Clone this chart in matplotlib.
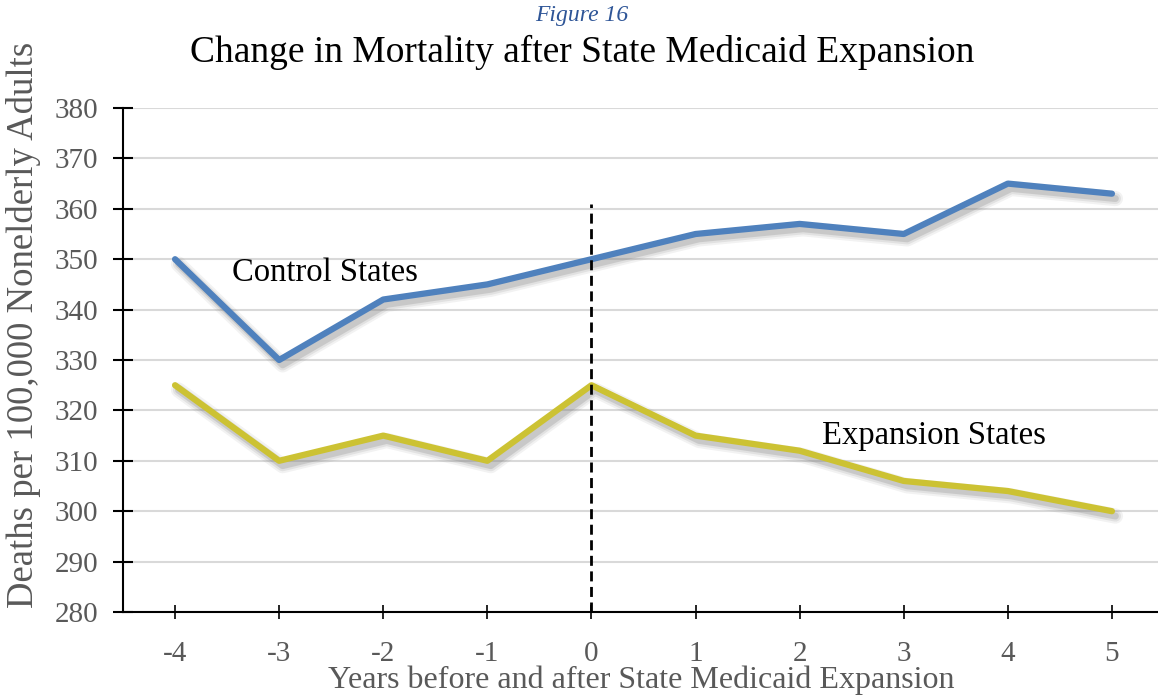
import matplotlib
matplotlib.use('Agg')
import matplotlib.pyplot as plt
import matplotlib.patheffects as pe

plt.rcParams['font.family'] = ['Liberation Serif', 'DejaVu Serif']

# 데이터
years = [-4, -3, -2, -1, 0, 1, 2, 3, 4, 5]
control = [350, 330, 342, 345, 350, 355, 357, 355, 365, 363]
expansion = [325, 310, 315, 310, 325, 315, 312, 306, 304, 300]

W, H = 1158, 697
fig = plt.figure(figsize=(W / 100, H / 100), dpi=100)
fig.set_facecolor('white')
ax = fig.add_axes([123 / W, 1 - 612 / H, (W - 123) / W, (612 - 108) / H])

# 흐릿한 그림자 흉내
shadow = [pe.SimpleLineShadow(offset=(2.5, -3.5), shadow_color='#808080', alpha=0.10, linewidth=11),
          pe.SimpleLineShadow(offset=(2.5, -3.5), shadow_color='#808080', alpha=0.15, linewidth=8),
          pe.SimpleLineShadow(offset=(2.5, -3.5), shadow_color='#808080', alpha=0.25, linewidth=5),
          pe.Normal()]

ax.plot(years, control, color='#4F81BD', lw=4.5, solid_capstyle='round', solid_joinstyle='round',
        path_effects=shadow, zorder=3)
ax.plot(years, expansion, color='#CCC233', lw=4.5, solid_capstyle='round', solid_joinstyle='round',
        path_effects=shadow, zorder=3)

# 확장 시점 점선
ax.plot([0, 0], [280, 361], color='black', lw=2, ls=(0, (3.6, 2)), zorder=4)

ax.text(-3.45, 347.3, 'Control States', fontsize=23.5, va='center', ha='left')
ax.text(2.21, 314.9, 'Expansion States', fontsize=23.5, va='center', ha='left')

ax.set_xlim(-4.5, -4.5 + (W - 123) / 104.1)
ax.set_ylim(280, 380)
ax.set_xticks(years)
ax.set_xticklabels([str(y) for y in years])
ax.set_yticks(range(280, 381, 10))

ax.grid(axis='y', color='#d9d9d9', lw=1.5)
ax.set_axisbelow(True)
for s in ['top', 'right']:
    ax.spines[s].set_visible(False)
for s in ['left', 'bottom']:
    ax.spines[s].set_linewidth(1.5)
    ax.spines[s].set_color('black')

ax.tick_params(axis='y', direction='inout', length=14, width=1.5, labelsize=21, labelcolor='#595959', pad=11)
ax.tick_params(axis='x', direction='inout', length=9.5, width=1.2, labelsize=21, labelcolor='#595959', pad=16)

ax.set_ylabel('Deaths per 100,000 Nonelderly Adults', fontsize=26.5, color='#595959', va='center')
ax.yaxis.set_label_coords(-0.0966, 0.569)
ax.set_xlabel('Years before and after State Medicaid Expansion', fontsize=23, color='#595959', va='center')
ax.xaxis.set_label_coords(0.501, -0.136)

fig.text(582 / W, 1 - 16 / H, 'Figure 16', fontsize=17, style='italic', color='#2E5597',
         ha='center', va='center')
fig.text(582 / W, 1 - 52 / H, 'Change in Mortality after State Medicaid Expansion', fontsize=27,
         ha='center', va='center')

fig.savefig('out.png', dpi=100, facecolor='white')
